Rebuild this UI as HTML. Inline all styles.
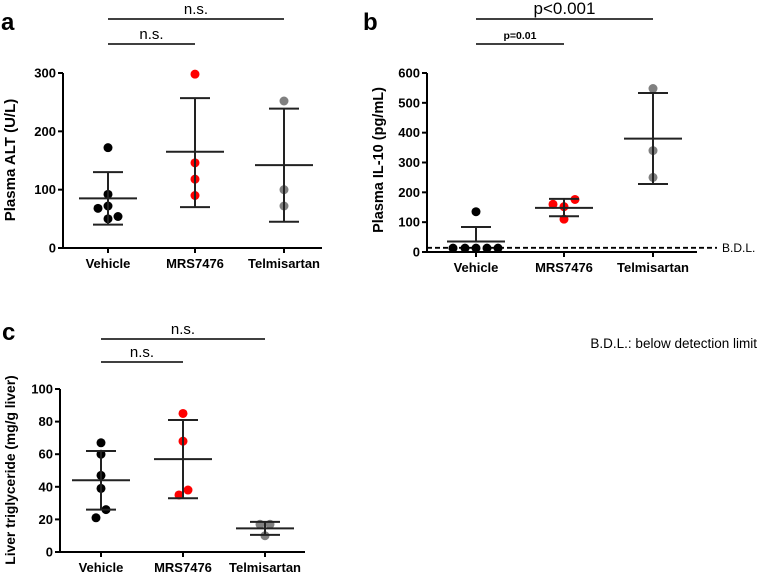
<!DOCTYPE html>
<html><head><meta charset="utf-8"><style>
body{margin:0;background:#fff;}
svg{display:block;font-family:"Liberation Sans",Arial,sans-serif;}
.tk{font-size:13px;font-weight:bold;text-anchor:end;}
.cat{font-size:13px;font-weight:bold;text-anchor:middle;}
.yt{font-weight:bold;text-anchor:middle;}
.pl{font-size:24px;font-weight:bold;}
.ns{text-anchor:middle;}
</style></head><body>
<svg id="fig" width="762" height="572" viewBox="0 0 762 572">
<text class="pl" x="1" y="30">a</text>
<text class="pl" x="363" y="30">b</text>
<text class="pl" x="2" y="340">c</text>
<text x="757" y="348" font-size="13.5" text-anchor="end">B.D.L.: below detection limit</text>
</svg>
<script>
const cats=["Vehicle","MRS7476","Telmisartan"];
const colors=["#000","#f00","#808080"];
// panel a
const aPts=[[172,92,72,68,50,54],[298,146,118,90],[252,100,72]];
const aMean=[85,165,142];const aLo=[40,70,45];const aHi=[130,257,239];
const aTicks=[0,100,200,300];
// panel b
const bPts=[[135,13,13,13,13,13],[160,152,176,110],[548,340,250]];
const bMean=[35,148,380];const bLo=[35,120,228];const bHi=[84,178,533];
const bTicks=[0,100,200,300,400,500,600];
const bBDL=14;
// panel c
const cPts=[[67,60,47,39,26,21],[85,68,38,35],[17,17,10]];
const cMean=[44,57,14.5];const cLo=[26,33,10.5];const cHi=[62,81,18.5];
const cTicks=[0,20,40,60,80,100];
const jitA=[[0,0,0,-10,0,10],[0,0,0,0],[0,0,0]];
const jitB=[[0,-23,-11,0,11,22],[-11,0,11,0],[0,0,0]];
const jitC=[[0,0,0,0,5,-5],[0,0,5,-4],[-5,5,0]];
const NS="http://www.w3.org/2000/svg";
const svg=document.getElementById('fig');
function el(t,a,txt){const e=document.createElementNS(NS,t);for(const k in a)e.setAttribute(k,a[k]);if(txt!==undefined)e.textContent=txt;svg.appendChild(e);return e;}
function panel(p){
  const y=v=>p.y0-(v-p.vmin)/(p.vmax-p.vmin)*(p.y0-p.y1);
  const x=i=>p.cx[i];
  let e=el('line',{x1:p.ax,y1:p.y1,x2:p.ax,y2:p.y0,stroke:'#000','stroke-width':2});
  
  
  e=el('line',{x1:p.ax,y1:p.y0,x2:p.xend,y2:p.y0,stroke:'#000','stroke-width':2});
  
  
  p.ticks.forEach(t=>{
    el('line',{x1:p.ax-5,y1:y(t),x2:p.ax,y2:y(t),stroke:'#000','stroke-width':2});
    e=el('text',{class:'tk',x:p.ax-7,y:y(t)+4.5},t);
    
    
  });
  cats.forEach((c,i)=>{
    el('line',{x1:x(i),y1:p.y0,x2:x(i),y2:p.y0+5,stroke:'#000','stroke-width':2});
    e=el('text',{class:'cat',x:x(i),y:p.y0+20},c);
    
    
    p.pts[i].forEach((v,j)=>{
      e=el('circle',{cx:x(i)+p.jit[i][j],cy:y(v),r:4.5,fill:colors[i]});
      
      
    });
    e=el('line',{x1:x(i),y1:y(p.lo[i]),x2:x(i),y2:y(p.hi[i]),stroke:'#222','stroke-width':2});
    
    
    el('line',{x1:x(i)-15,y1:y(p.hi[i]),x2:x(i)+15,y2:y(p.hi[i]),stroke:'#222','stroke-width':2});
    el('line',{x1:x(i)-15,y1:y(p.lo[i]),x2:x(i)+15,y2:y(p.lo[i]),stroke:'#222','stroke-width':2});
    e=el('line',{x1:x(i)-29,y1:y(p.mean[i]),x2:x(i)+29,y2:y(p.mean[i]),stroke:'#222','stroke-width':2});
    
    
  });
  e=el('text',{class:'yt','font-size':p.ytfs,transform:`translate(${p.ytx},${p.ytc}) rotate(-90)`},p.ytitle);
  
  
  el('line',{x1:x(0),y1:p.b1,x2:x(2),y2:p.b1,stroke:'#000','stroke-width':1.5});
  el('line',{x1:x(0),y1:p.b2,x2:x(1),y2:p.b2,stroke:'#000','stroke-width':1.5});
  e=el('text',{class:'ns',x:(x(0)+x(2))/2,y:p.b1-5,'font-size':p.s1fs},p.s1);
  
  
  e=el('text',{class:'ns',x:(x(0)+x(1))/2,y:p.b2-5,'font-size':p.s2fs,'font-weight':p.s2w},p.s2);
  
  
  return y;
}
panel({id:'panel-a',ax:63,xend:322,y0:248,y1:73,vmin:0,vmax:300,cx:[108,195,284],ticks:aTicks,pts:aPts,jit:jitA,mean:aMean,lo:aLo,hi:aHi,ytitle:'Plasma ALT (U/L)',ytx:15,ytc:160,ytfs:15,b1:19,b2:44,s1:'n.s.',s2:'n.s.',s1fs:15,s2fs:15,s2w:'normal'});
const yb=panel({id:'panel-b',ax:427,xend:697,y0:252,y1:73,vmin:0,vmax:600,cx:[476,564,653],ticks:bTicks,pts:bPts,jit:jitB,mean:bMean,lo:bLo,hi:bHi,ytitle:'Plasma IL-10 (pg/mL)',ytx:383,ytc:160,ytfs:14.5,b1:19,b2:44,s1:'p<0.001',s2:'p=0.01',s1fs:17,s2fs:10.5,s2w:'bold'});
let d=el('line',{x1:427,y1:yb(bBDL),x2:717,y2:yb(bBDL),stroke:'#000','stroke-width':1.8,'stroke-dasharray':'5,3'});


d=el('text',{x:722,y:yb(bBDL)+4,'font-size':12},'B.D.L.');


panel({id:'panel-c',ax:60,xend:305,y0:552,y1:389,vmin:0,vmax:100,cx:[101,183,265],ticks:cTicks,pts:cPts,jit:jitC,mean:cMean,lo:cLo,hi:cHi,ytitle:'Liver triglyceride (mg/g liver)',ytx:15,ytc:470,ytfs:13.8,b1:339,b2:362,s1:'n.s.',s2:'n.s.',s1fs:15,s2fs:15,s2w:'normal'});
</script>
</body></html>
